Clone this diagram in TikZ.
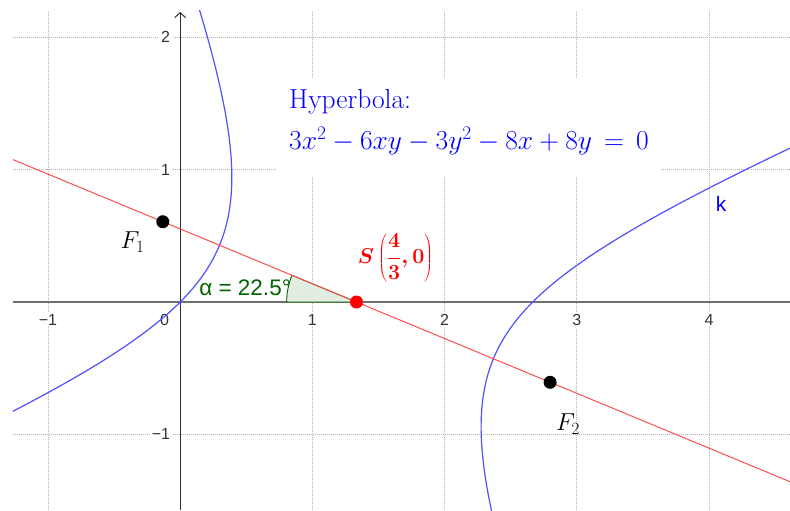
\documentclass[tikz,border=0pt]{standalone}
\usepackage{fix-cm}
\usepackage{fontspec}
\usepackage{bm}
\usetikzlibrary{arrows.meta}
\newfontfamily\lab{Liberation Sans}
\definecolor{gridc}{HTML}{B4B4B4}
\definecolor{xaxc}{HTML}{707070}
\definecolor{yaxc}{HTML}{303030}
\definecolor{redl}{HTML}{FF5050}
\definecolor{hypc}{HTML}{5050FF}
\definecolor{angf}{HTML}{E2EEE2}
\definecolor{angd}{HTML}{006400}
\definecolor{tickc}{HTML}{333333}
\tikzset{
  gridline/.style={gridc, line width=0.8pt, dash pattern=on 1pt off 1pt},
  ticklab/.style={font=\lab\fontsize{16}{18}\selectfont, text=tickc, fill=white, inner sep=2pt},
  ptnode/.style={circle, inner sep=0pt, minimum size=13pt, fill=black},
  curve/.style={hypc, line width=1.2pt},
  mathlab/.style={font=\fontsize{24.5}{28}\selectfont}
}
\begin{document}
\begin{tikzpicture}[x=132.2pt,y=132.3pt]
\useasboundingbox (-1.3631,-1.5722) rectangle (4.6127,2.2827);
\fill[white] (-1.3631,-1.5722) rectangle (4.6127,2.2827);
\begin{scope}
\clip (-1.265,-1.5722) rectangle (4.6127,2.2);
% grid
\foreach \gx in {-1,1,2,3,4} \draw[gridline] (\gx,-1.5722) -- (\gx,2.2);
\foreach \gy in {-1,1,2} \draw[gridline] (-1.265,\gy) -- (4.6127,\gy);
% tick labels
\node[ticklab] (tx1) at (-1,-0.136) {−1};
\node[ticklab] (tx0) at (-0.119,-0.136) {0};
\node[ticklab] (txa) at (1,-0.136) {1};
\node[ticklab] (txb) at (2,-0.136) {2};
\node[ticklab] (txc) at (3,-0.136) {3};
\node[ticklab] (txd) at (4,-0.136) {4};
\node[ticklab, anchor=east] (ty2) at (-0.06,2) {2};
\node[ticklab, anchor=east] (ty1) at (-0.06,1) {1};
\node[ticklab, anchor=east] (tym) at (-0.06,-1) {−1};
% equation label
\node[anchor=north west, fill=white, inner xsep=12pt, inner ysep=11pt, align=left,
      text=blue, font=\fontsize{27.5}{41}\selectfont] (eq) at (0.7322,1.6931)
  {Hyperbola:\\ $3x^2-6xy-3y^2-8x+8y\,=\,0$\rule[-16pt]{0pt}{16pt}};
% axes
\draw[xaxc, line width=1.3pt] (-1.265,0) -- (4.6127,0);
\draw[yaxc, line width=1pt, -{Straight Barb[length=5pt,width=11pt]}] (0,-1.5722) -- (0,2.192);
% centre as coordinate
\coordinate (S0) at (1.3333,0);
% angle sector
\filldraw[fill=angf, draw=angd, line width=0.9pt] (S0) -- ++(180:0.528) arc[start angle=180, end angle=157.5, radius=0.528] -- cycle;
% hyperbola branches
\draw[curve] plot[domain=-1.6:2.3, samples=200, smooth, variable=\t] ({(6*\t+8-sqrt(72*\t*\t+64))/6},{\t});
\draw[curve] plot[domain=-1.6:2.3, samples=200, smooth, variable=\t] ({(6*\t+8+sqrt(72*\t*\t+64))/6},{\t});
% red line
\coordinate (L1) at (-1.4,1.1322);
\coordinate (L2) at (4.7,-1.3945);
\draw[redl, line width=1pt] (L1) -- (L2);
\end{scope}
% points
\node[ptnode] (F1) at (-0.1316,0.6068) {};
\node[ptnode] (F2) at (2.798,-0.6068) {};
\node[ptnode, fill=red] (S) at (1.3333,0) {};
% labels
\node[mathlab] (F1l) at (-0.36,0.4535) {$F_1$};
\node[mathlab] (F2l) at (2.933,-0.922) {$F_2$};
\node[text=red, font=\fontsize{21.5}{25}\selectfont\boldmath] (Sl) at (1.6286,0.3364) {$\displaystyle S\left(\frac{4}{3},0\right)$};
\node[text=blue, font=\lab\fontsize{21}{24}\selectfont] (kl) at (4.0908,0.7407) {k};
\node[text=angd, font=\lab\fontsize{22.5}{25}\selectfont, anchor=base east, inner sep=0pt] (al) at (0.838,0.0529) {α = 22.5°};
\end{tikzpicture}
\end{document}
